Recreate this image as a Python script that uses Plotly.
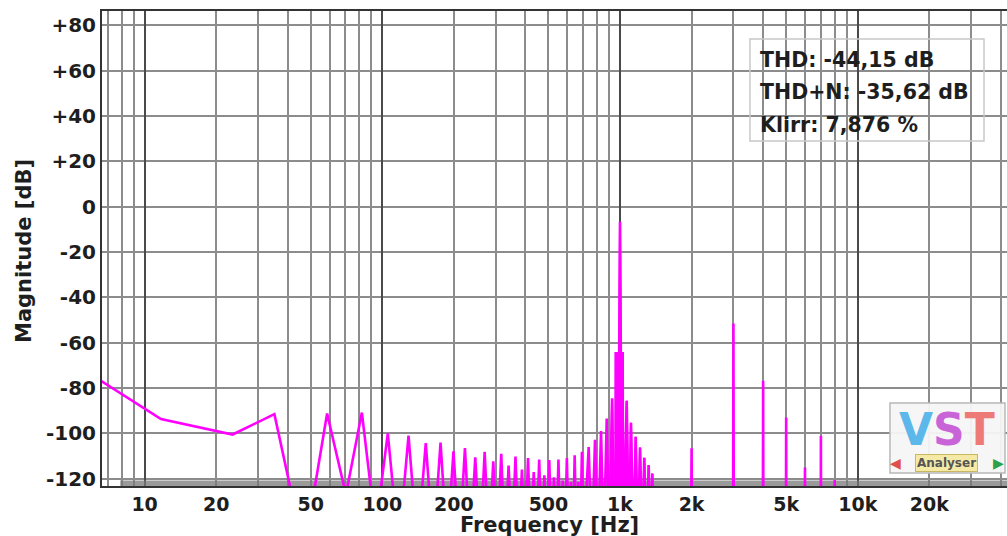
import plotly.graph_objects as go

# ---------------- data ----------------
# low-frequency FFT bins (Hz) and magnitudes (dB); values below -123 dB are hidden under the floor
lf_freqs = [5.0, 11.72, 23.44, 35.16, 46.88, 58.59, 70.31, 82.03, 93.75, 105.47, 117.19,
            128.91, 140.63, 152.34, 164.06, 175.78, 187.5, 199.22, 210.94, 222.66, 234.38,
            246.09, 257.81, 269.53, 281.25, 292.97, 304.69, 316.41, 328.13, 339.84, 351.56,
            363.28, 375.0, 386.72, 398.44, 410.16, 421.88, 433.59, 445.31, 457.03, 468.75,
            480.47, 492.19, 503.91, 515.63, 527.34, 539.06, 550.78, 562.5, 574.22, 585.94,
            597.66, 609.38, 621.09, 632.81, 644.53, 656.25, 667.97, 679.69, 691.41, 703.13]
lf_db = [-69, -93.7, -100.5, -91.5, -152, -91.2, -127, -90.8, -142, -100, -150,
         -101, -150, -104.3, -150, -104, -150, -107.9, -150, -106.5, -150,
         -110.6, -150, -108.1, -150, -112.3, -150, -109, -150, -114.2, -150,
         -110.2, -150, -115.9, -150, -110.9, -150, -117, -150, -111.5, -150,
         -118.5, -150, -111.8, -150, -119.4, -150, -111.5, -150, -120.8, -150,
         -110.9, -150, -121.5, -150, -109.7, -150, -121.5, -150, -108.1, -150]

# comb just below the fundamental
mid_freqs = [738, 761, 785, 808, 832, 855, 879, 902, 926, 945]
mid_db = [-106, -150, -102.8, -150, -99, -150, -93.4, -150, -84.6, -150]

# fundamental (1 kHz) with its leakage block
fund_freqs = [957, 960, 992, 1000, 1008, 1026, 1031]
fund_db = [-150, -64.7, -64.7, -6.7, -64.7, -64.7, -150]

# skirt above the fundamental
skirt_freqs = [1067, 1090, 1112, 1138, 1164, 1189, 1214, 1240, 1265, 1292, 1320, 1343, 1367, 1390]
skirt_db = [-85.6, -150, -95.3, -150, -101.5, -150, -106.2, -150, -110.8, -150, -114, -150, -117.7, -150]

# harmonics
harm_freqs = [2000, 3000, 4000, 5000, 6000, 7000, 8000]
harm_db = [-106.6, -51.5, -76.8, -93, -115, -101, -120.5]
harm_gap_freqs = [1988, 2012, 2988, 3012, 3988, 4012, 4988, 5012, 5988, 6012, 6988, 7012,
                  7988, 8012, 45000]
harm_gap_db = [-150] * 15

# noise floor band
floor_freqs = [7.9, 45000]
floor_top_db = [-120.8, -120.8]
floor_bottom_db = [-125, -125]

# axes
x_tick_vals = [7, 8, 9, 10, 20, 30, 40, 50, 60, 70, 80, 90, 100, 200, 300, 400, 500, 600,
               700, 800, 900, 1000, 2000, 3000, 4000, 5000, 6000, 7000, 8000, 9000, 10000,
               20000, 30000, 40000]
x_labels = {10: "10", 20: "20", 50: "50", 100: "100", 200: "200", 500: "500",
            1000: "1k", 2000: "2k", 5000: "5k", 10000: "10k", 20000: "20k"}
decades = [10, 100, 1000, 10000]
y_tick_vals = [-120, -100, -80, -60, -40, -20, 0, 20, 40, 60, 80]
y_tick_text = ["-120", "-100", "-80", "-60", "-40", "-20", "0", "+20", "+40", "+60", "+80"]

stats = ["THD: -44,15 dB", "THD+N: -35,62 dB", "Klirr: 7,876 %"]

# ---------------- assemble spectrum ----------------
pts = sorted(zip(lf_freqs + mid_freqs + fund_freqs + skirt_freqs + harm_freqs + harm_gap_freqs,
                 lf_db + mid_db + fund_db + skirt_db + harm_db + harm_gap_db))
spec_f = [p[0] for p in pts]
spec_db = [p[1] for p in pts]
dense = [p for p in pts if 900 <= p[0] <= 1400]

MAG = "#ff00ff"
FONT = "DejaVu Sans"
TXT = "#1e1e1e"

fig = go.Figure()
fig.add_trace(go.Scatter(x=floor_freqs, y=floor_bottom_db, mode="lines",
                         line=dict(width=0, color="rgba(0,0,0,0)"), hoverinfo="skip"))
fig.add_trace(go.Scatter(x=floor_freqs, y=floor_top_db, mode="lines", fill="tonexty",
                         fillcolor="rgba(120,120,120,0.75)",
                         line=dict(width=0, color="rgba(0,0,0,0)"), hoverinfo="skip"))
fig.add_trace(go.Scatter(x=[p[0] for p in dense], y=[p[1] for p in dense], mode="lines",
                         fill="toself", fillcolor=MAG, line=dict(color=MAG, width=2)))
fig.add_trace(go.Scatter(x=spec_f, y=spec_db, mode="lines", line=dict(color=MAG, width=2.6)))
# overlay axis only for darker decade grid lines
fig.add_trace(go.Scatter(x=[decades[0]], y=[0], xaxis="x2", mode="markers",
                         marker=dict(opacity=0), hoverinfo="skip"))

xr = [0.8208, 4.628]
fig.update_layout(
    width=1007, height=536,
    margin=dict(l=102, r=0, t=11, b=50),
    paper_bgcolor="white", plot_bgcolor="white",
    showlegend=False,
    xaxis=dict(type="log", range=xr, tickmode="array", tickvals=x_tick_vals,
               ticktext=[x_labels.get(v, "") for v in x_tick_vals], automargin=False,
               showgrid=True, gridcolor="#8c8c8c", gridwidth=1.5,
               showline=True, linecolor="#333", linewidth=2, mirror=True,
               ticks="", zeroline=False,
               tickfont=dict(family=FONT, size=19, color=TXT, weight="bold")),
    xaxis2=dict(type="log", range=xr, overlaying="x", matches="x", tickmode="array",
                tickvals=decades, showticklabels=False, showgrid=True, automargin=False,
                gridcolor="#4a4a4a", gridwidth=2, zeroline=False, ticks=""),
    yaxis=dict(range=[-123.2, 86.3], tickmode="array", tickvals=y_tick_vals,
               ticktext=y_tick_text, showgrid=True, gridcolor="#8c8c8c", gridwidth=1.5,
               showline=True, linecolor="#333", linewidth=2, mirror=False,
               ticks="", zeroline=False, automargin=False,
               tickfont=dict(family=FONT, size=20, color=TXT, weight="bold")),
)

# axis titles
fig.add_annotation(text="Frequency [Hz]", xref="paper", yref="paper", x=0.495, y=-0.083,
                   showarrow=False, xanchor="center", yanchor="middle",
                   font=dict(family=FONT, size=21, color=TXT, weight="bold"))
fig.add_annotation(text="Magnitude [dB]", xref="paper", yref="paper", x=-0.0862, y=0.4947,
                   showarrow=False, textangle=-90, xanchor="center", yanchor="middle",
                   font=dict(family=FONT, size=21, color=TXT, weight="bold"))

# stats box
fig.add_shape(type="rect", xref="paper", yref="paper", x0=0.716, x1=0.9746, y0=0.7263, y1=0.941,
              line=dict(color="#c8c8c8", width=1.5), fillcolor="rgba(0,0,0,0)")
for txt, yy in zip(stats, [0.8968, 0.8295, 0.760]):
    fig.add_annotation(text=txt, xref="paper", yref="paper", x=0.7249, y=yy, showarrow=False,
                       xanchor="left", yanchor="middle",
                       font=dict(family=FONT, size=20.5, color=TXT, weight="bold"))

# VST Analyser logo
fig.add_shape(type="rect", xref="paper", yref="paper", x0=0.8707, x1=0.9978, y0=0.0274, y1=0.1747,
              line=dict(color="#b8b8b8", width=1.5), fillcolor="rgba(245,245,245,0.95)")
fig.add_annotation(text="<span style='color:#5cb8ea'>V</span><span style='color:#c864d8'>S</span>"
                        "<span style='color:#ee7a78'>T</span>",
                   xref="paper", yref="paper", x=0.9337, y=0.12, showarrow=False,
                   xanchor="center", yanchor="middle",
                   font=dict(family=FONT, size=44, weight="bold"))
fig.add_annotation(text="Analyser", xref="paper", yref="paper", x=0.9337, y=0.049,
                   showarrow=False, xanchor="center", yanchor="middle",
                   bgcolor="#f4eaa6", bordercolor="#c9b860", borderwidth=1, borderpad=1,
                   font=dict(family=FONT, size=12, color="#555", weight="bold"))
fig.add_annotation(text="◀", xref="paper", yref="paper", x=0.877, y=0.049, showarrow=False,
                   xanchor="center", yanchor="middle", font=dict(family=FONT, size=14, color="#e0504a"))
fig.add_annotation(text="▶", xref="paper", yref="paper", x=0.991, y=0.049, showarrow=False,
                   xanchor="center", yanchor="middle", font=dict(family=FONT, size=14, color="#2ea04a"))

fig.write_html("out.html", config={"displayModeBar": False},
               post_script="document.body.style.margin='0';")
